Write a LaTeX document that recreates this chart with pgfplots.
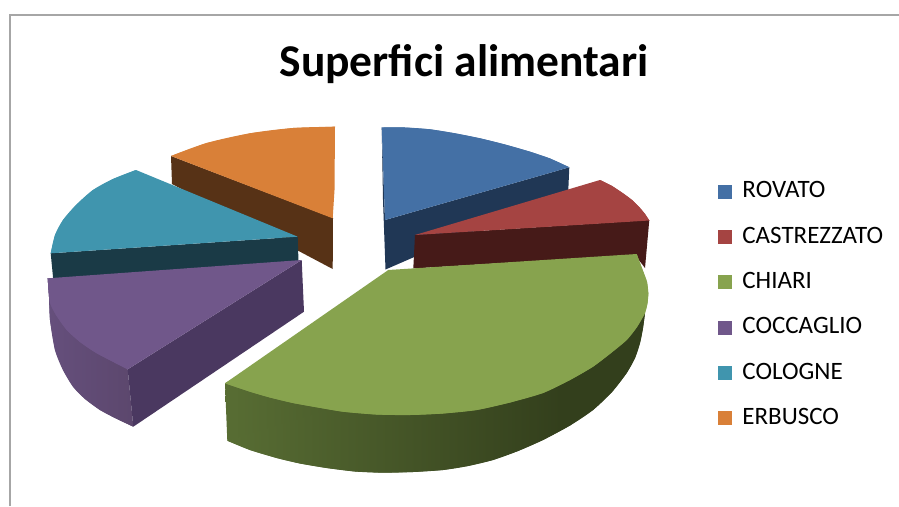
\documentclass[border=0pt]{standalone}
\usepackage{pgfplots}
\pgfplotsset{compat=1.18}
\usepackage{fontspec}
\setmainfont{Carlito}
\definecolor{cb}{HTML}{4470A5}\definecolor{cbs}{HTML}{203755}
\definecolor{cr}{HTML}{A54442}\definecolor{crs}{HTML}{461A18}
\definecolor{cg}{HTML}{87A34E}
\definecolor{cp}{HTML}{70578A}\definecolor{cps}{HTML}{4A3860}
\definecolor{ct}{HTML}{4095AE}\definecolor{cts}{HTML}{1A3A46}
\definecolor{co}{HTML}{D98038}\definecolor{cos}{HTML}{573216}
\definecolor{gsa}{HTML}{6F8A42}\definecolor{gsb}{HTML}{333F1C}
\definecolor{psa}{HTML}{6A5384}\definecolor{psb}{HTML}{574365}
\pgfdeclarehorizontalshading{greenside}{100bp}{color(0bp)=(gsa); color(65bp)=(gsb); color(100bp)=(gsb)}
\pgfdeclarehorizontalshading{purpleside}{100bp}{color(0bp)=(psa); color(100bp)=(psb)}
\pgfplotsset{sq/.style={legend image code/.code={\fill[#1] (0pt,-1.5pt) rectangle (13.5pt,11.5pt);}}}
\begin{document}
\begin{tikzpicture}
\begin{axis}[x=1pt,y=1pt,xmin=0,xmax=899,ymin=0,ymax=506,y dir=reverse,hide axis,
  anchor=south west,at={(0,0)},
  legend style={draw=none,fill=none,at={(axis cs:717.3,183.7)},anchor=north west,
    font=\fontsize{25}{25}\selectfont,row sep=20.3pt,
    /tikz/every odd column/.style={column sep=11pt},
    inner sep=0pt,nodes={inner sep=0pt,anchor=west,text height=14pt,text depth=11pt}},
  legend cell align=left,legend plot pos=left]
\addlegendimage{sq=cb}\addlegendentry{ROVATO}
\addlegendimage{sq=cr}\addlegendentry{CASTREZZATO}
\addlegendimage{sq=cg}\addlegendentry{CHIARI}
\addlegendimage{sq=cp}\addlegendentry{COCCAGLIO}
\addlegendimage{sq=ct}\addlegendentry{COLOGNE}
\addlegendimage{sq=co}\addlegendentry{ERBUSCO}
% frame
\addplot[forget plot,draw=white,fill=white] coordinates {(0,0)(899,0)(899,506)(0,506)};
\addplot[forget plot,draw={rgb,255:red,166;green,166;blue,166},line width=2.5pt] coordinates {(9.8,506)(9.8,14.8)(899,14.8)};
% ERBUSCO
\addplot[forget plot,draw=none,fill=cos] coordinates {(171,156)(172,184)(332.7,269)(333,218)};
\addplot[forget plot,draw=none,fill=co] coordinates {(332.7,218.3)(334.5,190)(335,126.7)(293,128)(250,133.3)(206.7,143)(171,156)};
\addplot[forget plot,draw=none,fill=co,smooth] coordinates {(335,126.7)(293,128)(250,133.3)(206.7,143)(171,156)};
% COLOGNE
\addplot[forget plot,draw=none,fill=cts] coordinates {(50.7,253.3)(53.3,280)(298.5,262)(297.7,236.7)};
\addplot[forget plot,draw=none,fill=ct] coordinates {(297.7,236.7)(136,170)(113,179)(93,190)(76,205)(63,220)(55,235)(50.7,253.3)};
\addplot[forget plot,draw=none,fill=ct,smooth] coordinates {(136,170)(113,179)(93,190)(76,205)(63,220)(55,235)(50.7,253.3)};
% COCCAGLIO
\addplot[forget plot,draw=none,shading=purpleside] coordinates {(47.7,278.3)(49,296.7)(50,320)(55,350)(63,370)(73,386.7)(85,399)(100,410)(115,418)(133.3,426.7)(127.7,369.3)};
\addplot[forget plot,draw=none,shading=purpleside,smooth] coordinates {(47.7,278.3)(49,296.7)(50,320)(55,350)(63,370)(73,386.7)(85,399)(100,410)(115,418)(133.3,426.7)};
\addplot[forget plot,draw=none,fill=cps] coordinates {(127.7,369.3)(301.7,260)(304,311.7)(133.3,426.7)};
\addplot[forget plot,draw=none,fill=cp] coordinates {(47.7,278.3)(301.7,260)(127.7,369.3)(96.7,353.3)(80,342)(66.7,330)(56,315)(50,303)(48.5,290)};
\addplot[forget plot,draw=none,fill=cp,smooth] coordinates {(127.7,369.3)(96.7,353.3)(80,342)(66.7,330)(56,315)(50,303)(48.5,290)(47.7,278.3)};
% ROVATO
\addplot[forget plot,draw=none,fill=cbs] coordinates {(381.7,127.3)(385,220)(569.3,167.3)(568.3,190)(385.5,269.5)(383,200)};
\addplot[forget plot,draw=none,fill=cb] coordinates {(381.7,127.3)(385,220)(569.3,167.3)(550,158.5)(530,151.7)(505,144.5)(480,138.3)(455,133.3)(430,129.3)(405,127.5)};
\addplot[forget plot,draw=none,fill=cb,smooth] coordinates {(569.3,167.3)(550,158.5)(530,151.7)(505,144.5)(480,138.3)(455,133.3)(430,129.3)(405,127.5)(381.7,127.3)};
% CASTREZZATO
\addplot[forget plot,draw=none,fill=crs] coordinates {(415,235)(413.3,268.5)(635,255)(645,268)(649.3,220)};
\addplot[forget plot,draw=none,fill=cr] coordinates {(415,235)(600,180)(612,186)(623,193.3)(632,200)(640,208)(645,214)(649.3,220.5)};
\addplot[forget plot,draw=none,fill=cr,smooth] coordinates {(600,180)(612,186)(623,193.3)(632,200)(640,208)(645,214)(649.3,220.5)};
% CHIARI
\addplot[forget plot,draw=none,shading=greenside] coordinates {(225,383.3)(227.3,440.7)(250,450)(276.7,458)(300,463.5)(326.7,468)(355,471.5)(383,472.7)(413,472)(443,470)(468,466)(493,460)(518,451)(543,440)(570,425.5)(593,410)(612,392)(626.7,373)(635,358)(640,343)(643,328)(645,313)(625,300)(300,340)};
\addplot[forget plot,draw=none,shading=greenside,smooth] coordinates {(227.3,440.7)(250,450)(276.7,458)(300,463.5)(326.7,468)(355,471.5)(383,472.7)(413,472)(443,470)(468,466)(493,460)(518,451)(543,440)(570,425.5)(593,410)(612,392)(626.7,373)(635,358)(640,343)(643,328)(645,313)};
\addplot[forget plot,draw=none,fill=cg] coordinates {(636.7,254)(388.3,270)(225,383.3)(250,391.7)(270,397.5)(293,403)(318,407.5)(343,411.7)(376,414.5)(410,415)(443,413.5)(476.7,410)(510,402.5)(543,393)(570,380)(593,366.7)(611,353)(626.7,340)(637,327)(645,313)(647.5,303)(648.3,293.3)(647,282)(643.3,271.7)(640,263)};
\addplot[forget plot,draw=none,fill=cg,smooth] coordinates {(225,383.3)(250,391.7)(270,397.5)(293,403)(318,407.5)(343,411.7)(376,414.5)(410,415)(443,413.5)(476.7,410)(510,402.5)(543,393)(570,380)(593,366.7)(611,353)(626.7,340)(637,327)(645,313)(647.5,303)(648.3,293.3)(647,282)(643.3,271.7)(640,263)(636.7,254)};
\node[anchor=center,font=\fontsize{45.5}{45.5}\selectfont\bfseries] at (axis cs:464,64) {Superfici alimentari};
\end{axis}
\end{tikzpicture}
\end{document}
